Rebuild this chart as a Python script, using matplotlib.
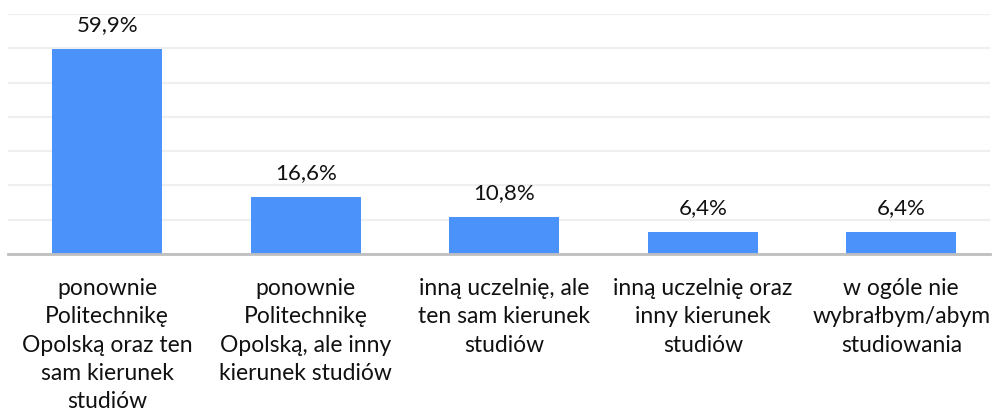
import matplotlib.pyplot as plt

plt.rcParams['font.family'] = ['Lato', 'DejaVu Sans']

categories = [
    "ponownie\nPolitechnikę\nOpolską oraz ten\nsam kierunek\nstudiów",
    "ponownie\nPolitechnikę\nOpolską, ale inny\nkierunek studiów",
    "inną uczelnię, ale\nten sam kierunek\nstudiów",
    "inną uczelnię oraz\ninny kierunek\nstudiów",
    "w ogóle nie\nwybrałbym/abym\nstudiowania",
]
values = [59.9, 16.6, 10.8, 6.4, 6.4]
value_labels = ["59,9%", "16,6%", "10,8%", "6,4%", "6,4%"]

fig = plt.figure(figsize=(9.93, 4.12), dpi=100)
ax = fig.add_axes([0.008, 0.3835, 0.989, 0.5825])

x = list(range(len(values)))
bars = ax.bar(x, values, width=0.555, color="#4C92FB", zorder=2)

for rect, lab in zip(bars, value_labels):
    ax.annotate(lab, (rect.get_x() + rect.get_width() / 2, rect.get_height()),
                xytext=(0, 10), textcoords="offset points",
                ha="center", va="bottom", fontsize=16, color="#111111")

ax.set_ylim(0, 70)
ax.set_xlim(-0.5, 4.447)
ax.set_yticks(range(0, 71, 10))
ax.yaxis.grid(True, color="#EFEFEF", linewidth=1.6, zorder=0)
ax.tick_params(axis="y", left=False, labelleft=False)

ax.set_xticks(x)
ax.set_xticklabels(categories, fontsize=16.5, linespacing=1.42, color="#111111")
ax.tick_params(axis="x", bottom=False, pad=14)

for side in ["top", "right", "left"]:
    ax.spines[side].set_visible(False)
ax.spines["bottom"].set_color("#BFBFBF")
ax.spines["bottom"].set_linewidth(2)
ax.spines["bottom"].set_zorder(3)

fig.savefig("out.png", dpi=100)
